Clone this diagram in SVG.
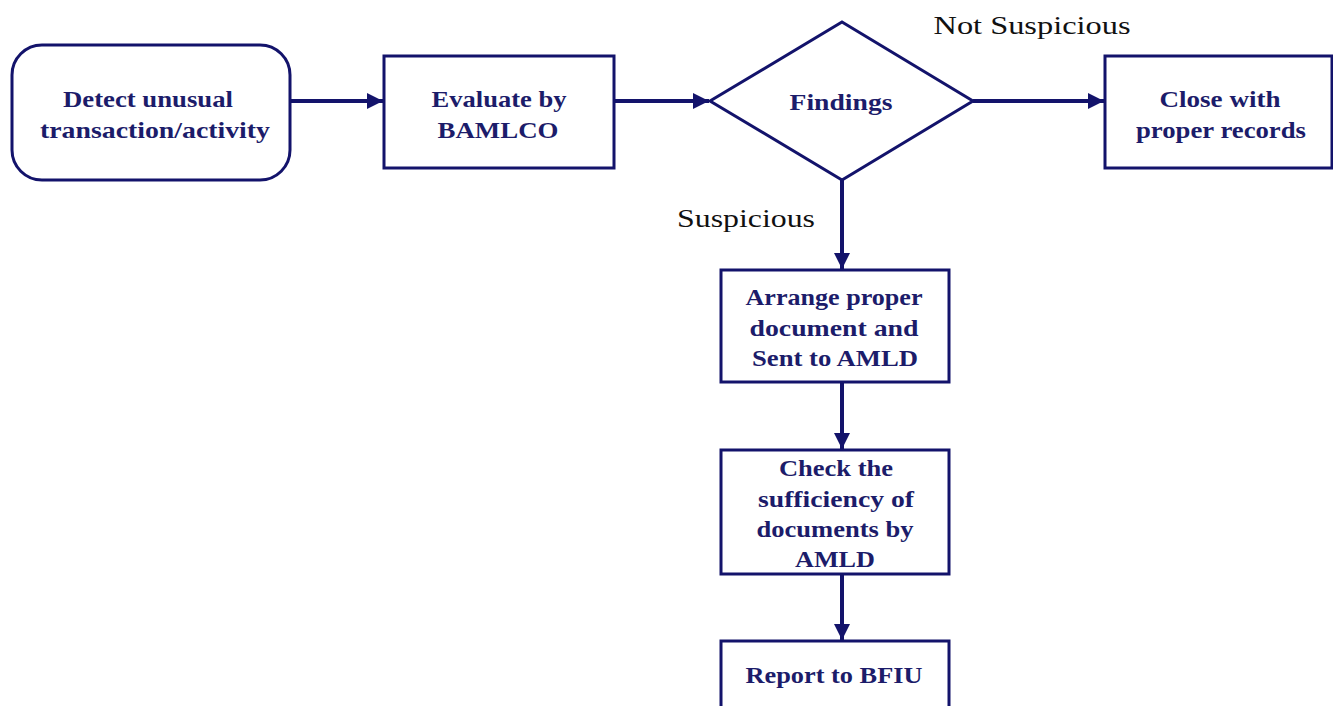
<svg xmlns="http://www.w3.org/2000/svg" width="1333" height="706" viewBox="0 0 1333 706">
<defs>
<marker id="ah" viewBox="0 0 10 10" refX="10" refY="5" markerWidth="4" markerHeight="4" orient="auto" markerUnits="strokeWidth">
<path d="M0,0 L10,5 L0,10 Z" fill="#13136b"/>
</marker>
<style>
.box{fill:#fff;stroke:#13136b;stroke-width:3}
.t{font-family:"Liberation Serif","Times New Roman",serif;font-weight:bold;font-size:24px;fill:#1c1c6a;text-anchor:middle}
.lbl{font-family:"Liberation Serif","Times New Roman",serif;font-size:25px;fill:#111;text-anchor:middle}
.c{stroke:#13136b;stroke-width:4;fill:none;marker-end:url(#ah)}
</style>
</defs>
<rect width="1333" height="706" fill="#fff"/>
<g id="connectors">
<line class="c" x1="290" y1="101" x2="383" y2="101"/>
<line class="c" x1="614" y1="101" x2="709" y2="101"/>
<line class="c" x1="973" y1="101" x2="1104" y2="101"/>
<line class="c" x1="842" y1="180" x2="842" y2="269"/>
<line class="c" x1="842" y1="382" x2="842" y2="449"/>
<line class="c" x1="842" y1="574" x2="842" y2="640"/>
</g>
<g id="n-detect">
<rect class="box" x="12" y="45" width="278" height="135" rx="30" ry="30"/>
<text class="t" x="148" y="107" textLength="170" lengthAdjust="spacingAndGlyphs">Detect unusual</text>
<text class="t" x="155" y="138" textLength="230" lengthAdjust="spacingAndGlyphs">transaction/activity</text>
</g>
<g id="n-evaluate">
<rect class="box" x="384" y="56" width="230" height="112"/>
<text class="t" x="499" y="107" textLength="135" lengthAdjust="spacingAndGlyphs">Evaluate by</text>
<text class="t" x="498" y="138" textLength="121" lengthAdjust="spacingAndGlyphs">BAMLCO</text>
</g>
<g id="n-findings">
<polygon class="box" points="842,22 973,101 842,180 710,101"/>
<text class="t" x="841" y="110" textLength="103" lengthAdjust="spacingAndGlyphs">Findings</text>
</g>
<g id="n-close">
<rect class="box" x="1105" y="56" width="227" height="112"/>
<text class="t" x="1220" y="107" textLength="121" lengthAdjust="spacingAndGlyphs">Close with</text>
<text class="t" x="1221" y="138" textLength="170" lengthAdjust="spacingAndGlyphs">proper records</text>
</g>
<g id="n-arrange">
<rect class="box" x="721" y="270" width="228" height="112"/>
<text class="t" x="834" y="305" textLength="177" lengthAdjust="spacingAndGlyphs">Arrange proper</text>
<text class="t" x="834" y="336" textLength="169" lengthAdjust="spacingAndGlyphs">document and</text>
<text class="t" x="835" y="366" textLength="166" lengthAdjust="spacingAndGlyphs">Sent to AMLD</text>
</g>
<g id="n-check">
<rect class="box" x="721" y="450" width="228" height="124"/>
<text class="t" x="836" y="476" textLength="114" lengthAdjust="spacingAndGlyphs">Check the</text>
<text class="t" x="836" y="507" textLength="156" lengthAdjust="spacingAndGlyphs">sufficiency of</text>
<text class="t" x="835" y="537" textLength="157" lengthAdjust="spacingAndGlyphs">documents by</text>
<text class="t" x="835" y="567" textLength="80" lengthAdjust="spacingAndGlyphs">AMLD</text>
</g>
<g id="n-report">
<rect class="box" x="721" y="641" width="228" height="80"/>
<text class="t" x="834" y="683" textLength="177" lengthAdjust="spacingAndGlyphs">Report to BFIU</text>
</g>
<g id="labels">
<text class="lbl" x="1032" y="34" textLength="197" lengthAdjust="spacingAndGlyphs">Not Suspicious</text>
<text class="lbl" x="746" y="227" textLength="138" lengthAdjust="spacingAndGlyphs">Suspicious</text>
</g>
</svg>
